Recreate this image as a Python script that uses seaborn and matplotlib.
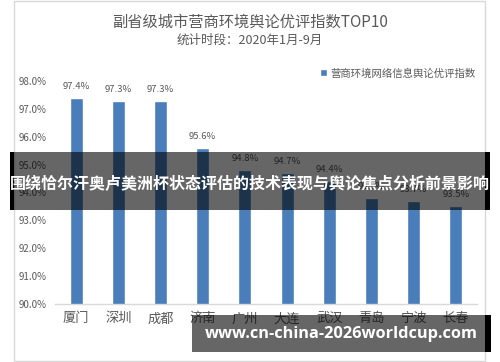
import matplotlib
matplotlib.use("Agg")
import matplotlib.pyplot as plt
import matplotlib.patches as mpatches
from matplotlib.ticker import FuncFormatter, MultipleLocator
import seaborn as sns
import pandas as pd

# ---- data ----
cities = ["厦门", "深圳", "成都", "济南", "广州", "大连", "武汉", "青岛", "宁波", "长春"]
values = [97.4, 97.3, 97.3, 95.6, 94.8, 94.7, 94.4, 93.8, 93.7, 93.5]
title = "副省级城市营商环境舆论优评指数TOP10"
subtitle = "统计时段：2020年1月-9月"
series_name = "营商环境网络信息舆论优评指数"
banner_text = "围绕恰尔汗奥卢美洲杯状态评估的技术表现与舆论焦点分析前景影响"
watermark_text = "www.cn-china-2026worldcup.com"

sns.set_theme(style="white")
plt.rcParams['font.family'] = ['Noto Sans CJK SC', 'DejaVu Sans']

W, H = 500, 362
fig = plt.figure(figsize=(W / 100, H / 100), dpi=100)
fig.patch.set_facecolor("white")

def fx(x):
    return x / W

def fy(y):
    return 1 - y / H

# chart border
fig.patches.append(mpatches.Rectangle((fx(14), fy(361)), fx(485 - 14), (361 - 1) / H,
                                      transform=fig.transFigure, fill=False,
                                      edgecolor="#D9D9D9", linewidth=1, zorder=0))

ax = fig.add_axes([fx(55), fy(304), fx(477 - 55), (304 - 81) / H])
df = pd.DataFrame({"city": cities, "value": values})
bar_color = "#4A7EBB"
sns.barplot(data=df, x="city", y="value", color=bar_color, width=0.31, ax=ax,
            saturation=1, label=series_name)
ax.set_ylim(90, 98)
ax.set_xlim(-0.5, len(cities) - 0.5)
ax.yaxis.set_major_locator(MultipleLocator(1))
ax.yaxis.set_major_formatter(FuncFormatter(lambda v, p: f"{v:.1f}%"))
ax.set_xlabel("")
ax.set_ylabel("")
for s in ["top", "right", "left"]:
    ax.spines[s].set_visible(False)
ax.spines["bottom"].set_color("#D9D9D9")
ax.spines["bottom"].set_linewidth(1)
ax.tick_params(axis="y", labelsize=7, colors="#595959", length=0, pad=6)
ax.tick_params(axis="x", labelsize=9.5, colors="#595959", length=0, pad=6)
ax.set_facecolor("white")

for i, v in enumerate(values):
    ax.annotate(f"{v:.1f}%", (i, v), xytext=(0, 5), textcoords="offset points",
                ha="center", va="bottom", fontsize=6.8, color="#595959")

leg = ax.legend(loc="upper right", bbox_to_anchor=(fx(476), fy(68)),
                bbox_transform=fig.transFigure, frameon=False, fontsize=7.5,
                handlelength=0.6, handleheight=0.6, handletextpad=0.4,
                borderaxespad=0, borderpad=0)
for t in leg.get_texts():
    t.set_color("#595959")

fig.text(0.5, fy(22), title, ha="center", va="center", fontsize=11, color="#595959")
fig.text(0.5, fy(40), subtitle, ha="center", va="center", fontsize=9, color="#595959")

# banner overlay
fig.patches.append(mpatches.Rectangle((fx(10), fy(210)), fx(480), (210 - 152) / H,
                                      transform=fig.transFigure, facecolor="black",
                                      alpha=0.6, edgecolor="none", zorder=10))
for x0, x1 in [(10, 14), (485, 490)]:
    fig.patches.append(mpatches.Rectangle((fx(x0), fy(210)), fx(x1 - x0), (210 - 152) / H,
                                          transform=fig.transFigure, facecolor="black",
                                          edgecolor="none", zorder=11))
fig.text(fx(250), fy(184), banner_text, ha="center", va="center", fontsize=11.5,
         color="white", fontweight="bold", zorder=12)

# watermark overlay
fig.patches.append(mpatches.Rectangle((fx(192), fy(352)), fx(485 - 192), (352 - 315) / H,
                                      transform=fig.transFigure, facecolor="black",
                                      alpha=0.6, edgecolor="none", zorder=10))
fig.patches.append(mpatches.Rectangle((fx(485), fy(352)), fx(6), (352 - 315) / H,
                                      transform=fig.transFigure, facecolor="black",
                                      edgecolor="none", zorder=11))
fig.text(fx(341), fy(334), watermark_text, ha="center", va="center", fontsize=11.8,
         color="white", fontweight="bold", family=["Open Sans", "DejaVu Sans"], zorder=12)

fig.savefig("out.png", dpi=100, facecolor="white")
